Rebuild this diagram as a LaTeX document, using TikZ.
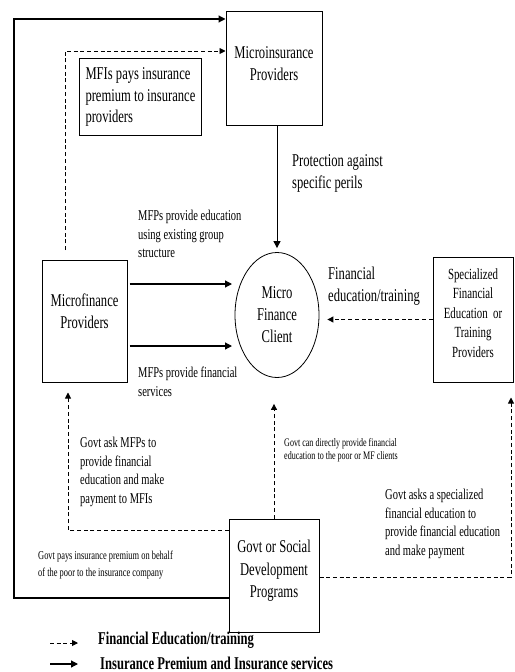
\documentclass[tikz,border=0pt]{standalone}
\usepackage{fontspec}
\setmainfont{Liberation Serif}[FakeStretch=0.7]
\usetikzlibrary{shapes.geometric,arrows.meta,positioning}

\begin{document}
\begin{tikzpicture}[
    x=1bp, y=-1bp,
    box/.style={draw, line width=1bp, inner sep=0pt},
    flow/.style={-{Triangle[length=7bp, width=7bp]}, line width=1.2bp},
    edu/.style={-{Triangle[length=6bp, width=6bp]}, line width=0.9bp, dash pattern=on 4bp off 2.7bp},
    big/.style={font=\fontsize{18bp}{22bp}\selectfont, align=center, inner sep=0pt},
    note/.style={font=\fontsize{15bp}{18.5bp}\selectfont, align=left, anchor=north west, inner sep=0pt},
    small/.style={font=\fontsize{12bp}{17bp}\selectfont, align=left, anchor=north west, inner sep=0pt},
    key/.style={font=\bfseries\fontsize{18bp}{22bp}\selectfont, anchor=west, inner sep=0pt},
]
    \useasboundingbox (0,0) rectangle (515,672);

    % boxes
    \node[box, minimum width=96bp, minimum height=113bp] (mip) at (274,68.5) {};
    \node[big] (mipT) at (274,63.5) {Microinsurance\\Providers};
    \node[box, anchor=north west, align=left, inner xsep=6bp, minimum width=121bp, minimum height=77bp,
          font=\fontsize{18bp}{21.5bp}\selectfont] (mfi) at (79,58)
        {MFIs pays insurance\\premium to insurance\\providers};
    \node[box, minimum width=85bp, minimum height=122bp] (mfp) at (84.5,321) {};
    \node[big] (mfpT) at (84.5,311) {Microfinance\\Providers};
    \node[big, draw, ellipse, line width=0.8bp, minimum width=84bp, minimum height=125bp] (client)
        at (277,315) {Micro\\Finance\\Client};
    \node[box, minimum width=80bp, minimum height=125bp] (sfe) at (473,319.5) {};
    \node[big, font=\fontsize{15.5bp}{19.5bp}\selectfont] (sfeT) at (473,313)
        {Specialized\\Financial\\Education~~or\\Training\\Providers};
    \node[box, minimum width=90bp, minimum height=113bp] (govt) at (274,575.5) {};
    \node[big, font=\fontsize{18bp}{22.5bp}\selectfont] (govtT) at (274,571)
        {Govt or Social\\Development\\Programs};

    % labels
    \node[big, anchor=north west, align=left] (protL) at (292,154) {Protection against\\specific perils};
    \node[big, anchor=north west, align=left] (eduL) at (328,267) {Financial\\education/training};
    \node[note] (mfpEduL) at (138,210) {MFPs provide education\\using existing group\\structure};
    \node[note] (mfpFinL) at (138,367) {MFPs provide financial\\services};
    \node[note] (govMfpL) at (80,437) {Govt ask MFPs to\\provide financial\\education and make\\payment to MFIs};
    \node[small, font=\fontsize{11.5bp}{13bp}\selectfont] (govCliL) at (284,438)
        {Govt can directly provide financial\\education to the poor or MF clients};
    \node[note] (govSfeL) at (385,489)
        {Govt asks a specialized\\financial education to\\provide financial education\\and make payment};
    \node[small] (govInsL) at (38,551)
        {Govt pays insurance premium on behalf\\of the poor to the insurance company};

    % insurance flows
    \coordinate (topL) at (14,19);
    \coordinate (botL) at (14,598);
    \draw[flow] (botL -| govt.west) -- (botL) -- (topL) -- (topL -| mip.west);
    \draw[flow, line width=1bp, shorten >=4bp] (mip.south -| client.north) -- (client.north);
    \coordinate (eduIn) at (232,284);
    \coordinate (finIn) at (232,346);
    \draw[flow, shorten <=2bp] (eduIn -| mfp.east) -- (eduIn);
    \draw[flow, shorten <=2bp] (finIn -| mfp.east) -- (finIn);

    % education flows
    \coordinate (dashTop) at (65,51);
    \coordinate (dashFoot) at (65,250);
    \draw[edu] (dashFoot) -- (dashTop) -- (dashTop -| mip.west);
    \draw[edu, shorten >=8bp] (sfe.west) -- (sfe.west -| client.east);
    \draw[edu, shorten >=26bp] (govt.north) -- (govt.north |- client.south);
    \coordinate (govL) at (68,530);
    \draw[edu, shorten >=10bp] (govL -| govt.west) -- (govL) -- (govL |- mfp.south);
    \coordinate (govR) at (511,577);
    \draw[edu, shorten >=15bp] (govR -| govt.east) -- (govR) -- (govR |- sfe.south);

    % legend
    \coordinate (keyA) at (50,643);
    \coordinate (keyB) at (78,643);
    \coordinate (keyC) at (50,664);
    \coordinate (keyD) at (78,664);
    \draw[edu] (keyA) -- (keyB);
    \draw[flow] (keyC) -- (keyD);
    \node[key] (keyEdu) at (98,640) {Financial Education/training};
    \node[key] (keyIns) at (100,663) {Insurance Premium and Insurance services};
\end{tikzpicture}
\end{document}
